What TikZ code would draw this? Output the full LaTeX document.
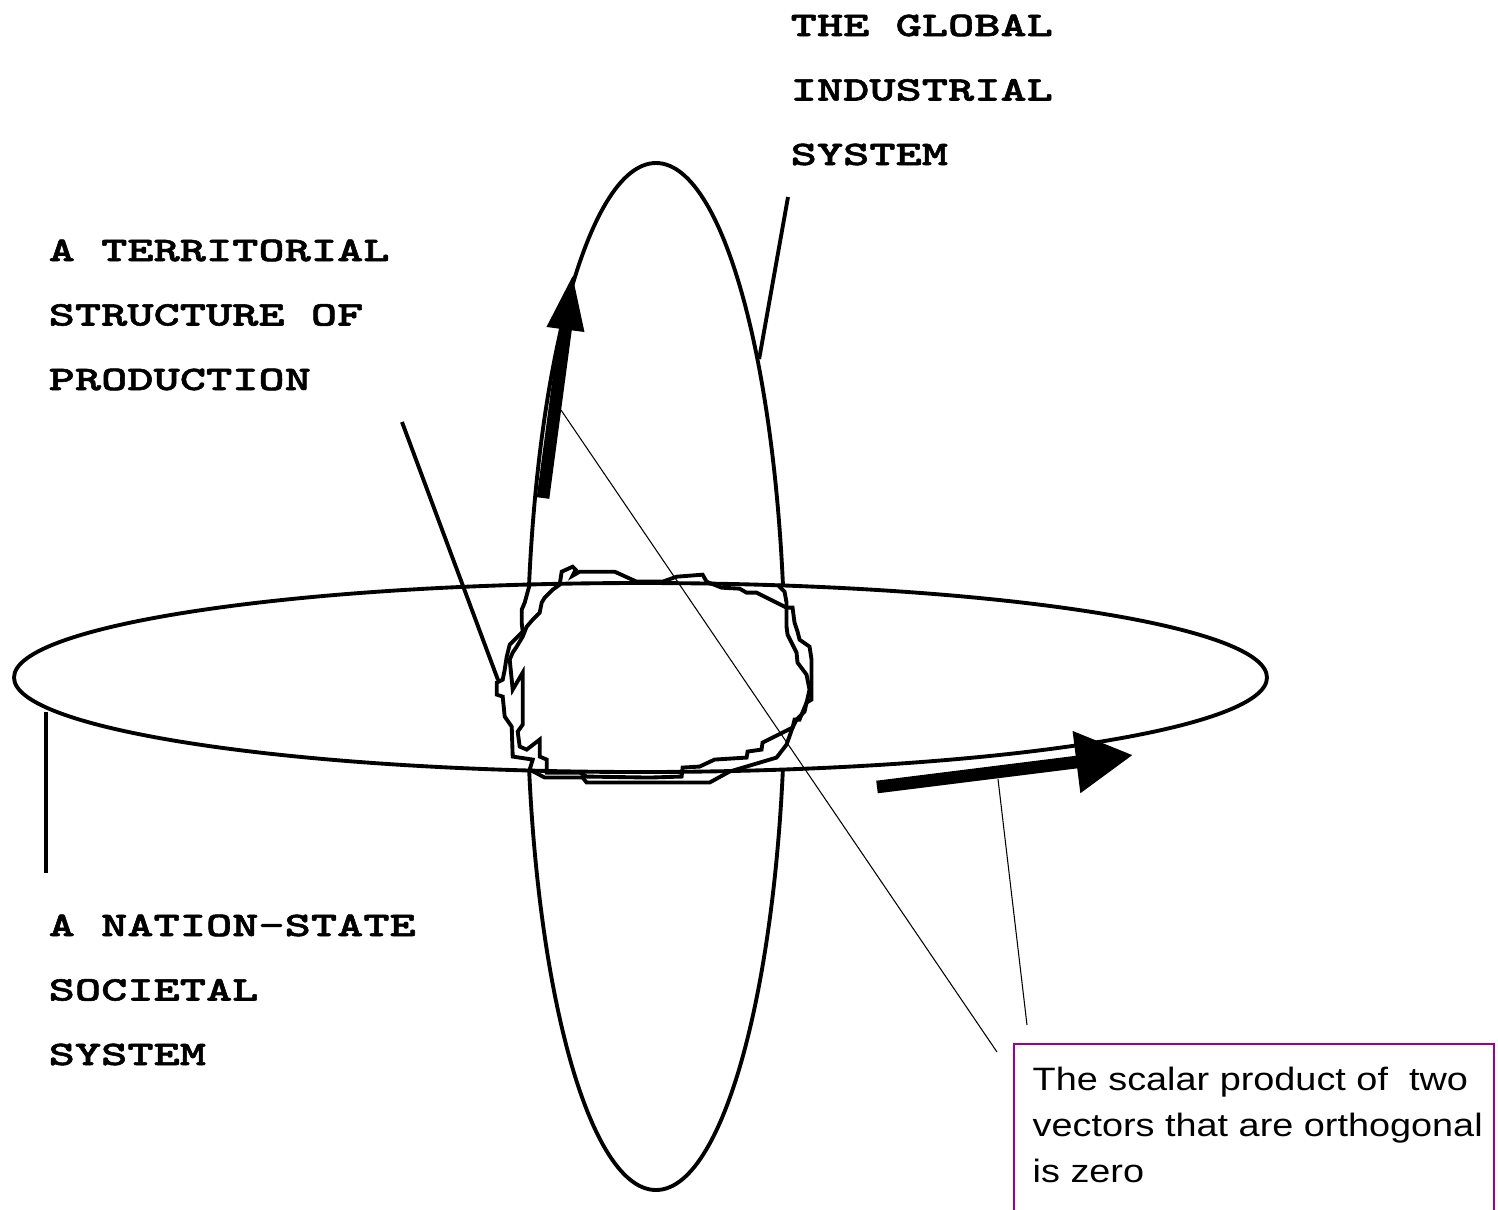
\documentclass[tikz,border=0pt]{standalone}
\usepackage{fontspec}
\newfontfamily\labelfont[FakeStretch=1.45, FakeBold=1.6]{lmmonolt10-bold.otf}
\newfontfamily\notefont[FakeStretch=1.17]{Liberation Sans}
\usetikzlibrary{arrows.meta, shapes.geometric}
\definecolor{notepurple}{RGB}{153,0,153}

\begin{document}
\begin{tikzpicture}[
        orbit/.style={draw, ellipse, inner sep=0pt, line width=1.1pt},
        lbl/.style={font=\labelfont\fontsize{9.8}{18.35}\selectfont, align=left, inner sep=0pt, anchor=base west},
        leader/.style={line width=1.1pt},
        hair/.style={line width=0.3pt},
        vec/.style={line width=3.6pt},
        blob/.style={line width=1.1pt, line join=miter},
        notebox/.style={draw=notepurple, line width=0.6pt, inner sep=0pt},
        notetext/.style={font=\notefont\fontsize{9.2}{13}\selectfont, align=left, inner sep=0pt, anchor=base west}
    ]
        \useasboundingbox (0,0) rectangle (14.98,-12.09);

        % the two orthogonal planes
        \node[orbit, minimum width=2.58cm, minimum height=10.27cm] (industry) at (6.56,-6.765) {};
        \node[orbit, fill=white, minimum width=12.53cm, minimum height=1.89cm] (nation) at (6.405,-6.775) {};

        % the territory where they meet (traced by hand)
        \begin{scope}[x=0.01cm, y=-0.01cm]
            \draw[blob] (560,585) -- (562,572) -- (573,567) -- (576,570) -- (573,576) -- (580,572)
                -- (615,572) -- (637,582) -- (663,582) -- (677,577) -- (703,575) -- (707,582)
                -- (722,588) -- (740,589) -- (747,593) -- (757,593) -- (787,608) -- (793,608)
                -- (795,623) -- (798,632) -- (800,640) -- (810,647) -- (812,660) -- (812,700)
                -- (807,703) -- (800,720) -- (795,720) -- (793,728) -- (763,743) -- (762,750)
                -- (748,752) -- (747,758) -- (715,760) -- (700,767) -- (683,768) -- (682,777)
                -- (650,778) -- (587,777) -- (580,773) -- (547,773) -- (547,760) -- (540,757)
                -- (540,740) -- (527,750) -- (520,747) -- (518,732) -- (523,725) -- (523,673)
                -- (513,690) -- (510,660) -- (513,653) -- (517,647) -- (523,637) -- (527,627)
                -- (533,620) -- (540,613) -- (542,603) -- (545,598) -- (553,590) -- cycle;
            \draw[blob] (778,585) -- (785,592) -- (787,603) -- (787,627) -- (788,635) -- (797,653)
                -- (798,663) -- (807,675) -- (810,690) -- (805,712) -- (797,720) -- (793,728)
                -- (787,745) -- (777,758) -- (730,772) -- (710,783) -- (658,783) -- (587,783)
                -- (583,778) -- (545,778) -- (530,770) -- (533,760) -- (513,757) -- (512,727)
                -- (505,717) -- (503,697) -- (497,695) -- (497,683) -- (503,680) -- (505,670)
                -- (507,657) -- (510,645) -- (515,640) -- (523,632) -- (522,623) -- (522,610)
                -- (525,603) -- (528,592) -- (530,585);
        \end{scope}

        % the two vectors
        \coordinate (upS) at (5.43,-4.98);
        \coordinate (upT) at (5.73,-2.73);
        \draw[vec, -{Triangle[length=5.7mm, width=3.4mm]}] (upS) -- (upT);
        \coordinate (rightS) at (8.77,-7.87);
        \coordinate (rightT) at (11.33,-7.55);
        \draw[vec, -{Triangle[length=5.7mm, width=5.9mm]}] (rightS) -- (rightT);

        % labels
        \node[lbl] (global)    at (7.90,-1.65) {THE GLOBAL\\INDUSTRIAL\\SYSTEM};
        \node[lbl] (territory) at (0.48,-3.90) {A TERRITORIAL\\STRUCTURE OF\\PRODUCTION};
        \node[lbl] (society)   at (0.48,-10.65) {A NATION-STATE\\SOCIETAL\\SYSTEM};

        % leader lines
        \coordinate (globalFoot) at (7.88,-1.97);
        \draw[leader] (globalFoot) -- (industry.72.5);
        \coordinate (terrFoot) at (4.02,-4.22);
        \coordinate (terrEnd) at (4.98,-6.80);
        \draw[leader] (terrFoot) -- (terrEnd);
        \coordinate (natTop) at (0.46,-7.12);
        \coordinate (natFoot) at (0.46,-8.73);
        \draw[leader] (natTop) -- (natFoot);

        % note and its pointers
        \node[notebox, anchor=north west, minimum width=4.80cm, minimum height=2.3cm] (note) at (10.13,-10.43) {};
        \node[notetext] (notetxt) at (10.32,-11.82) {The scalar product of\ \ two\\vectors that are orthogonal\\is zero};
        \coordinate (upPt) at (5.61,-4.10);
        \coordinate (noteA) at (9.97,-10.52);
        \draw[hair] (upPt) -- (noteA);
        \coordinate (rightPt) at (9.98,-7.79);
        \coordinate (noteB) at (10.27,-10.25);
        \draw[hair] (rightPt) -- (noteB);
    \end{tikzpicture}
\end{document}
